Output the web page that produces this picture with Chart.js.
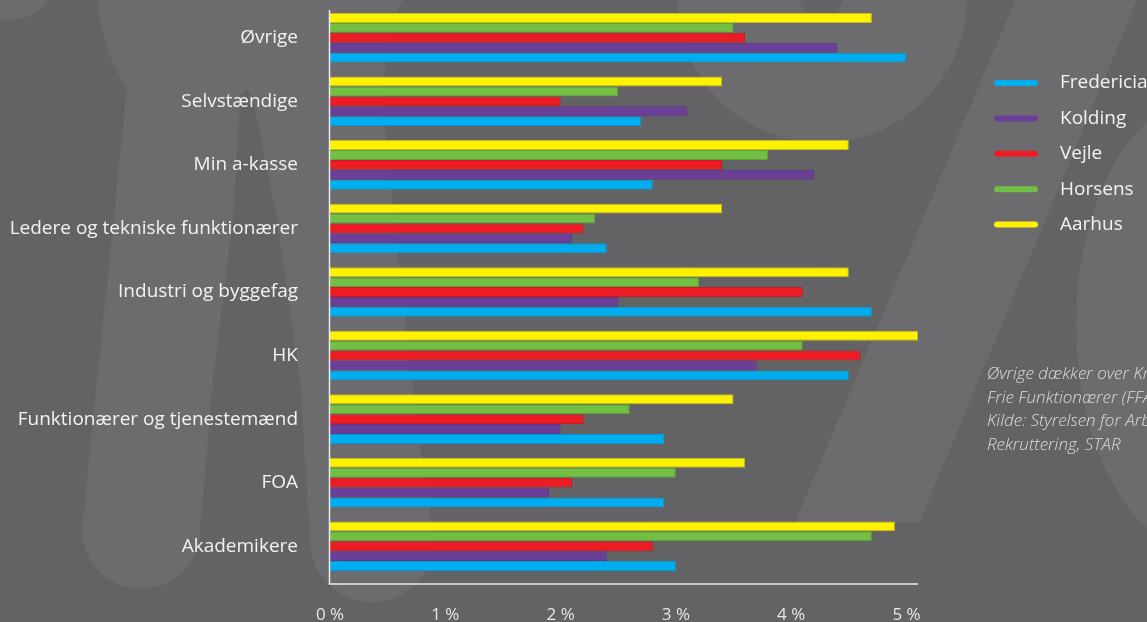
<!DOCTYPE html>
<html>
<head>
<meta charset="utf-8">
<script src="https://cdn.jsdelivr.net/npm/chart.js@4.4.1/dist/chart.umd.min.js"></script>
<style>
    html, body { margin: 0; padding: 0; background: #636365; overflow: hidden; }
    #wrap { width: 1147px; height: 622px; }
</style>
</head>
<body>
<div id="wrap"><canvas id="chart" width="1147" height="622"></canvas></div>
<script>
// Data (percent)
const categories = ['Øvrige', 'Selvstændige', 'Min a-kasse', 'Ledere og tekniske funktionærer',
    'Industri og byggefag', 'HK', 'Funktionærer og tjenestemænd', 'FOA', 'Akademikere'];

const aarhus     = [4.7, 3.4, 4.5, 3.4, 4.5, 5.1, 3.5, 3.6, 4.9];
const horsens    = [3.5, 2.5, 3.8, 2.3, 3.2, 4.1, 2.6, 3.0, 4.7];
const vejle      = [3.6, 2.0, 3.4, 2.2, 4.1, 4.6, 2.2, 2.1, 2.8];
const kolding    = [4.4, 3.1, 4.2, 2.1, 2.5, 3.7, 2.0, 1.9, 2.4];
const fredericia = [5.0, 2.7, 2.8, 2.4, 4.7, 4.5, 2.9, 2.9, 3.0];

const tickValues = [0, 1, 2, 3, 4, 5];
const tickLabels = ['0 %', '1 %', '2 %', '3 %', '4 %', '5 %'];

const noteLines = [
    'Øvrige dækker over Krifa og',
    'Frie Funktionærer (FFA)',
    'Kilde: Styrelsen for Arbejdsmarked og',
    'Rekruttering, STAR'
];

const TEXT = '#f2f2f2';
const BG = '#636365';
const SHADE = '#6c6c6e';

/* background: big faint glyphs */
const backdrop = {
    id: 'backdrop',
    beforeDraw(chart) {
        const c = chart.ctx;
        c.save();
        c.fillStyle = BG;
        c.fillRect(0, 0, chart.width, chart.height);
        c.fillStyle = SHADE;

        // left legs
        c.beginPath();
        c.moveTo(97, 0);
        c.quadraticCurveTo(105, 60, 127, 87);
        c.lineTo(82, 530);
        c.arc(141, 530, 59, Math.PI, 0, true);
        c.lineTo(213, 380);
        c.lineTo(233, 220);
        c.lineTo(240, 100);
        c.quadraticCurveTo(246, 80, 253, 100);
        c.lineTo(277, 220);
        c.lineTo(300, 380);
        c.lineTo(310, 540);
        c.arc(372, 540, 62, Math.PI, 0, true);
        c.lineTo(416, 420);
        c.lineTo(391, 190);
        c.lineTo(383, 110);
        c.quadraticCurveTo(383, 30, 403, 0);
        c.closePath();
        c.fill();

        c.beginPath();
        c.ellipse(10, -15, 42, 35, 0, 0, Math.PI * 2);
        c.fill();

        // percent sign: upper ring
        c.beginPath();
        c.arc(822, -2, 145, 0, Math.PI * 2);
        c.arc(821, -4, 22, 0, Math.PI * 2, true);
        c.fill('evenodd');

        // slash
        c.beginPath();
        c.moveTo(1015, 0);
        c.lineTo(1137, 0);
        c.lineTo(919, 523);
        c.lineTo(795, 523);
        c.closePath();
        c.fill();

        // lower ring
        c.beginPath();
        c.ellipse(1210, 325, 134, 230, 0, 0, Math.PI * 2);
        c.fill();
        c.restore();
    }
};

/* axis lines, legend and note */
const decorations = {
    id: 'decorations',
    afterDraw(chart) {
        const c = chart.ctx;
        const area = chart.chartArea;
        c.save();

        c.strokeStyle = '#ececec';
        c.lineWidth = 1.5;
        c.beginPath();
        c.moveTo(area.left - 0.5, 10);
        c.lineTo(area.left - 0.5, 584);
        c.lineTo(area.right, 584);
        c.stroke();

        // legend, Fredericia first
        const sets = chart.data.datasets.slice().reverse();
        c.lineCap = 'round';
        c.lineWidth = 6;
        c.font = '19px "Open Sans"';
        c.textBaseline = 'middle';
        c.textAlign = 'left';
        sets.forEach((ds, i) => {
            const y = 83 + i * 35.4;
            c.strokeStyle = ds.backgroundColor;
            c.beginPath();
            c.moveTo(997, y);
            c.lineTo(1035, y);
            c.stroke();
            c.fillStyle = TEXT;
            c.fillText(ds.label, 1060, y);
        });

        // note
        c.font = 'italic 300 17px "Open Sans"';
        c.fillStyle = '#dcdcdc';
        noteLines.forEach((line, i) => {
            c.fillText(line, 987, 374 + i * 23.7);
        });
        c.restore();
    }
};

const ctx = document.getElementById('chart');

new Chart(ctx, {
    type: 'bar',
    data: {
        labels: categories,
        datasets: [
            { label: 'Aarhus', data: aarhus, backgroundColor: '#fff200', borderColor: '#c6ba22' },
            { label: 'Horsens', data: horsens, backgroundColor: '#72bf44', borderColor: '#5f9f3a' },
            { label: 'Vejle', data: vejle, backgroundColor: '#ed1c24', borderColor: '#c81b22' },
            { label: 'Kolding', data: kolding, backgroundColor: '#6b3f98', borderColor: '#5b3684' },
            { label: 'Fredericia', data: fredericia, backgroundColor: '#00aeef', borderColor: '#0a97cc' }
        ]
    },
    options: {
        indexAxis: 'y',
        responsive: false,
        animation: false,
        layout: { padding: { left: 0, right: 229, top: 6, bottom: 0 } },
        datasets: {
            bar: {
                categoryPercentage: 0.78,
                barPercentage: 1.0,
                borderWidth: { top: 1, left: 0, right: 1, bottom: 1 },
                borderSkipped: false
            }
        },
        plugins: {
            legend: { display: false },
            tooltip: { enabled: false }
        },
        scales: {
            y: {
                grid: { display: false, drawTicks: false },
                border: { display: false },
                afterFit: scale => {
                    scale.width = 330;
                    scale.paddingTop = 0;
                    scale.paddingBottom = 0;
                },
                ticks: {
                    color: TEXT,
                    padding: 32,
                    font: { family: '"Open Sans"', size: 19 }
                }
            },
            x: {
                min: 0,
                max: 5.1,
                grid: { display: false, drawTicks: false },
                border: { display: false },
                afterFit: scale => { scale.height = 44; },
                afterBuildTicks: scale => {
                    scale.ticks = tickValues.map(v => ({ value: v }));
                },
                ticks: {
                    color: '#e6e6e6',
                    padding: 27,
                    maxRotation: 0,
                    font: { family: '"Open Sans"', size: 17 },
                    callback: val => tickLabels[tickValues.indexOf(val)]
                }
            }
        }
    },
    plugins: [backdrop, decorations]
});
</script>
</body>
</html>
